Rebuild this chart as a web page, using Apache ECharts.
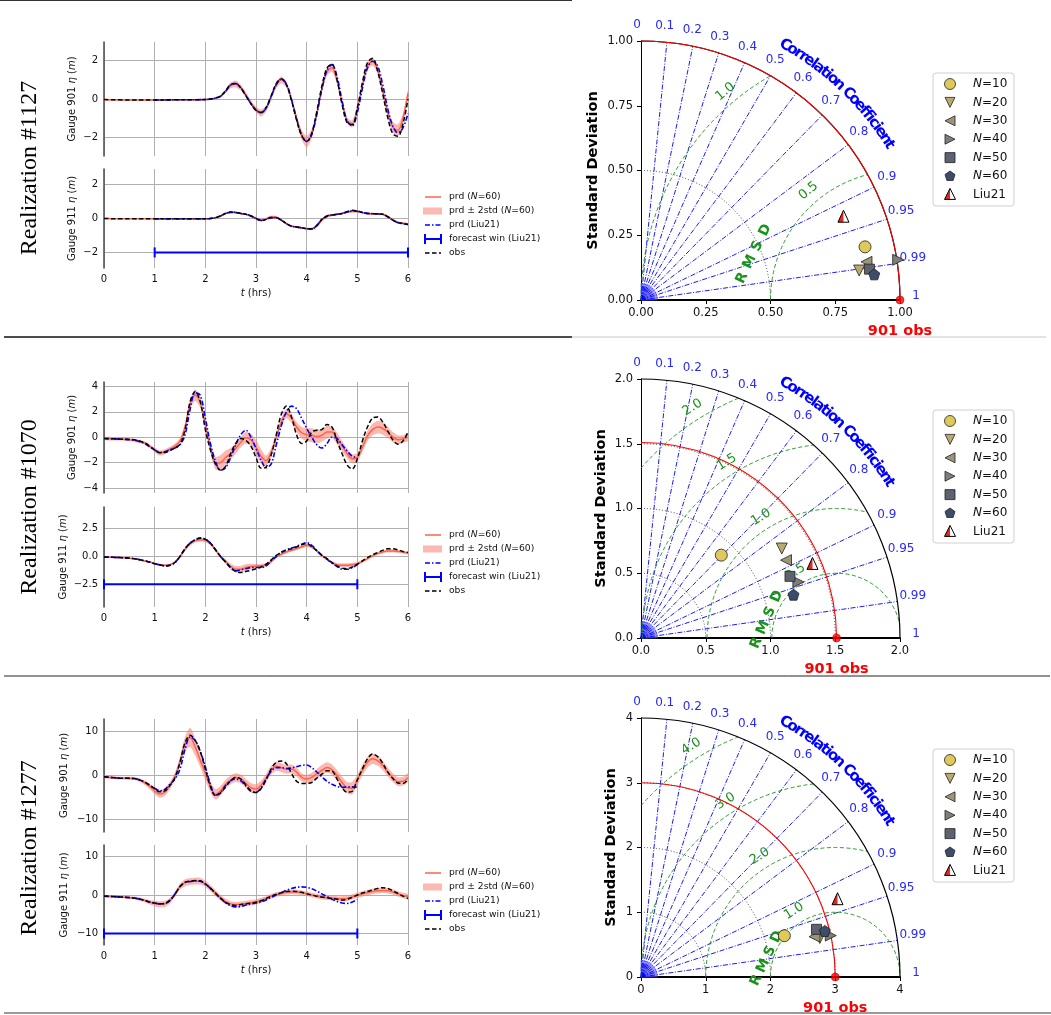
<!DOCTYPE html>
<html><head><meta charset="utf-8">
<script src="https://cdn.jsdelivr.net/npm/echarts@6/dist/echarts.min.js"></script>
<style>html,body{margin:0;padding:0;background:#fff}#c{width:1051px;height:1015px}</style>
</head><body><div id="c"></div>
<script>
// ---------------- DATA ----------------
const realizations = ['#1127', '#1070', '#1277'];
const gauges = ['901', '911'];
const xTicks = [0, 1, 2, 3, 4, 5, 6];

const hoursA = [0,0.5,1,1.5,2,
 2.1,2.2,2.3,2.4,2.5,2.6,2.7,2.8,2.9,3,
 3.1,3.2,3.3,3.4,3.5,3.6,3.7,3.8,3.9,4,
 4.1,4.2,4.3,4.4,4.5,4.6,4.7,4.8,4.9,5,
 5.1,5.2,5.3,5.4,5.5,5.6,5.7,5.8,5.9,6];
const hoursB = [0,0.3,0.6,0.8,0.9,
 1,1.1,1.2,1.3,1.4,1.5,1.6,1.7,1.8,1.9,
 2,2.1,2.2,2.3,2.4,2.5,2.6,2.7,2.8,2.9,
 3,3.1,3.2,3.3,3.4,3.5,3.6,3.7,3.8,3.9,
 4,4.1,4.2,4.3,4.4,4.5,4.6,4.7,4.8,4.9,
 5,5.1,5.2,5.3,5.4,5.5,5.6,5.7,5.8,5.9,6];

// Realization #1127
const obs_1127_901 = [-0.03,-0.05,-0.05,-0.04,-0.03,
 0.0,0.05,0.15,0.42,0.75,0.8,0.56,0.16,-0.25,-0.58,
 -0.7,-0.44,0.17,0.79,1.05,0.74,-0.07,-1.08,-1.89,-2.2,
 -1.77,-0.66,0.66,1.6,1.8,0.98,-0.3,-1.24,-1.33,-0.45,
 0.85,1.88,2.1,1.45,0.28,-0.96,-1.8,-1.93,-1.3,0.0];
const prd_1127_901 = [-0.03,-0.05,-0.05,-0.04,-0.03,
 0.0,0.05,0.15,0.4,0.7,0.78,0.6,0.22,-0.2,-0.55,
 -0.72,-0.5,0.1,0.72,1.0,0.74,-0.02,-1.0,-1.85,-2.2,
 -1.8,-0.75,0.5,1.4,1.62,0.95,-0.2,-1.12,-1.28,-0.5,
 0.7,1.7,1.95,1.5,0.45,-0.7,-1.45,-1.62,-1.0,0.3];
const sd_1127_901 = [0.03,0.03,0.03,0.03,0.03,
 0.03,0.04,0.06,0.1,0.15,0.18,0.15,0.12,0.12,0.15,
 0.18,0.15,0.12,0.15,0.18,0.15,0.12,0.18,0.25,0.3,
 0.25,0.15,0.15,0.2,0.22,0.18,0.15,0.15,0.18,0.15,
 0.15,0.2,0.22,0.2,0.18,0.2,0.28,0.3,0.25,0.2];
const liu_1127_901 = [null,null,-0.05,-0.04,-0.03,
 0.0,0.04,0.14,0.4,0.73,0.8,0.58,0.18,-0.24,-0.58,
 -0.7,-0.46,0.14,0.76,1.03,0.78,-0.02,-1.02,-1.86,-2.2,
 -1.85,-0.8,0.5,1.48,1.78,1.15,-0.1,-1.15,-1.38,-0.7,
 0.55,1.6,1.95,1.72,0.75,-0.5,-1.4,-1.75,-1.5,-0.75];
const obs_1127_911 = [0,-0.02,-0.02,-0.02,-0.02,
 0.0,0.05,0.15,0.3,0.38,0.36,0.3,0.25,0.15,0.0,
 -0.12,-0.05,0.05,0.05,-0.1,-0.3,-0.45,-0.5,-0.55,-0.6,
 -0.62,-0.4,-0.05,0.15,0.2,0.25,0.3,0.4,0.48,0.45,
 0.35,0.3,0.28,0.27,0.25,0.1,-0.1,-0.25,-0.3,-0.35];
const prd_1127_911 = [0,-0.02,-0.02,-0.02,-0.02,
 0.0,0.05,0.15,0.3,0.36,0.35,0.3,0.25,0.15,0.02,
 -0.1,-0.02,0.1,0.08,-0.1,-0.3,-0.45,-0.5,-0.55,-0.6,
 -0.6,-0.45,-0.1,0.15,0.2,0.25,0.3,0.38,0.42,0.42,
 0.35,0.3,0.28,0.27,0.25,0.12,-0.08,-0.22,-0.28,-0.33];
const sd_1127_911 = [0.02,0.02,0.02,0.02,0.02,
 0.02,0.03,0.05,0.06,0.06,0.06,0.06,0.06,0.06,0.06,
 0.06,0.06,0.07,0.07,0.06,0.06,0.06,0.06,0.06,0.07,
 0.07,0.06,0.06,0.06,0.06,0.06,0.06,0.07,0.07,0.07,
 0.06,0.06,0.06,0.06,0.06,0.06,0.06,0.06,0.06,0.06];
const liu_1127_911 = [null,null,-0.02,-0.02,-0.02,
 0.0,0.05,0.15,0.3,0.37,0.36,0.3,0.25,0.15,0.0,
 -0.12,-0.05,0.05,0.05,-0.1,-0.3,-0.45,-0.5,-0.55,-0.6,
 -0.62,-0.42,-0.05,0.12,0.2,0.25,0.3,0.38,0.45,0.43,
 0.35,0.3,0.28,0.27,0.25,0.1,-0.1,-0.25,-0.3,-0.35];

// Realization #1070
const obs_1070_901 = [-0.1,-0.15,-0.2,-0.45,-0.7,
 -1.0,-1.22,-1.2,-1.05,-0.85,-0.55,0.6,2.8,3.6,2.8,
 0.6,-1.0,-2.1,-2.6,-2.3,-1.3,-0.5,-0.1,-0.25,-0.7,
 -1.6,-2.45,-2.35,-1.4,0.2,1.8,2.45,1.6,0.2,-0.5,
 -0.3,0.4,0.55,0.6,1.0,0.8,-0.3,-1.3,-2.2,-2.5,
 -1.7,-0.3,0.8,1.5,1.6,1.2,0.5,-0.2,-0.55,-0.3,
 0.4];
const prd_1070_901 = [-0.1,-0.15,-0.25,-0.45,-0.7,
 -1.0,-1.25,-1.15,-0.95,-0.7,-0.3,0.8,2.6,3.3,2.7,
 1.0,-0.8,-2.05,-2.0,-1.6,-1.3,-0.9,-0.4,-0.05,-0.2,
 -0.8,-1.5,-1.85,-1.2,0.0,1.2,1.85,1.5,0.8,0.35,
 0.2,0.15,0.05,0.15,0.4,0.4,-0.1,-0.7,-1.3,-1.7,
 -1.6,-0.8,0.1,0.6,0.8,0.7,0.4,0.0,-0.2,-0.15,
 0.0];
const sd_1070_901 = [0.12,0.12,0.12,0.12,0.15,
 0.18,0.2,0.2,0.2,0.2,0.22,0.3,0.4,0.45,0.4,
 0.3,0.4,0.5,0.6,0.55,0.45,0.4,0.4,0.45,0.5,
 0.6,0.55,0.4,0.35,0.3,0.3,0.35,0.35,0.4,0.45,
 0.5,0.55,0.55,0.5,0.5,0.45,0.45,0.4,0.4,0.35,
 0.35,0.35,0.4,0.45,0.5,0.5,0.45,0.4,0.35,0.3,
 0.3];
const liu_1070_901 = [-0.1,-0.15,-0.25,-0.5,-0.75,
 -1.0,-1.2,-1.15,-1.0,-0.85,-0.6,0.2,2.2,3.5,3.3,
 1.5,-0.5,-1.9,-2.6,-2.4,-1.6,-0.6,0.2,0.55,0.0,
 -0.9,-1.8,-2.4,-2.1,-0.6,0.9,2.0,2.45,2.25,1.5,
 0.7,0.0,-0.6,-0.85,-0.5,0.0,-0.1,-0.6,-1.1,-1.5,
 -1.6,null,null,null,null,null,null,null,null,null,
 null];
const obs_1070_911 = [-0.05,-0.1,-0.2,-0.4,-0.5,
 -0.65,-0.75,-0.85,-0.8,-0.55,0.0,0.7,1.2,1.5,1.65,
 1.55,1.2,0.6,0.0,-0.5,-1.0,-1.35,-1.45,-1.35,-1.25,
 -1.1,-0.95,-0.7,-0.3,0.1,0.35,0.55,0.7,0.85,1.05,
 1.15,0.9,0.5,0.1,-0.2,-0.55,-0.85,-1.05,-1.1,-0.95,
 -0.7,-0.4,-0.1,0.15,0.35,0.55,0.7,0.7,0.6,0.45,
 0.35];
const prd_1070_911 = [-0.05,-0.1,-0.2,-0.4,-0.5,
 -0.65,-0.75,-0.8,-0.75,-0.5,0.0,0.65,1.15,1.4,1.5,
 1.45,1.15,0.6,0.0,-0.45,-0.9,-1.15,-1.15,-1.0,-0.9,
 -0.85,-0.85,-0.75,-0.45,-0.05,0.2,0.4,0.55,0.7,0.85,
 1.0,0.85,0.5,0.1,-0.25,-0.55,-0.75,-0.8,-0.8,-0.75,
 -0.65,-0.45,-0.2,0.05,0.25,0.4,0.5,0.5,0.45,0.4,
 0.3];
const sd_1070_911 = [0.06,0.06,0.06,0.08,0.08,
 0.08,0.1,0.1,0.1,0.1,0.12,0.15,0.15,0.15,0.15,
 0.15,0.15,0.15,0.15,0.2,0.25,0.3,0.3,0.3,0.25,
 0.2,0.18,0.15,0.15,0.12,0.12,0.12,0.12,0.12,0.12,
 0.12,0.12,0.12,0.12,0.12,0.12,0.15,0.18,0.18,0.18,
 0.15,0.12,0.12,0.12,0.12,0.12,0.15,0.15,0.12,0.12,
 0.12];
const liu_1070_911 = [-0.05,-0.1,-0.2,-0.4,-0.5,
 -0.65,-0.75,-0.85,-0.8,-0.55,0.0,0.7,1.2,1.5,1.65,
 1.55,1.2,0.6,0.0,-0.5,-1.0,-1.3,-1.2,-1.1,-1.0,
 -1.0,-1.0,-0.85,-0.4,0.0,0.4,0.6,0.75,0.9,1.1,
 1.25,1.0,0.55,0.1,-0.25,-0.6,-0.9,-1.15,-1.15,-1.0,
 -0.75,null,null,null,null,null,null,null,null,null,
 null];

// Realization #1277
const obs_1277_901 = [-0.3,-0.6,-0.7,-1.5,-2.2,
 -3.0,-3.7,-3.5,-2.3,-0.5,3.0,7.5,9.2,8.0,5.5,
 1.5,-2.5,-4.6,-4.0,-2.6,-1.2,-0.4,-0.8,-2.2,-3.5,
 -3.9,-3.0,-1.0,1.5,3.0,3.3,2.7,0.5,-1.3,-1.8,
 -1.8,-1.6,-0.6,0.3,1.1,1.0,-0.8,-2.8,-3.8,-3.6,
 -1.0,1.5,3.8,4.9,4.3,2.8,0.8,-0.7,-1.7,-1.8,
 -0.9];
const prd_1277_901 = [-0.3,-0.6,-0.7,-1.6,-2.5,
 -3.5,-4.2,-3.8,-2.3,-0.2,3.2,7.3,8.7,6.5,3.5,
 0.5,-2.5,-4.3,-3.5,-2.0,-1.0,-0.5,-0.8,-1.8,-2.8,
 -3.1,-2.2,-0.6,1.2,2.1,1.8,1.4,1.5,0.8,-0.4,
 -0.8,-0.4,0.4,1.2,1.8,1.3,0.0,-1.6,-2.8,-2.9,
 -1.0,1.2,3.0,3.8,3.4,2.3,0.8,-0.5,-1.4,-1.3,
 -0.5];
const sd_1277_901 = [0.3,0.3,0.35,0.5,0.6,
 0.8,0.9,0.9,0.8,0.8,1.0,1.6,2.2,2.0,1.6,
 1.5,1.3,1.2,1.1,1.0,1.0,1.0,1.0,1.0,1.1,
 1.1,1.0,1.0,1.0,1.0,1.0,1.0,1.0,1.0,0.9,
 0.9,1.0,1.1,1.2,1.2,1.2,1.2,1.3,1.3,1.4,
 1.2,1.2,1.2,1.2,1.2,1.1,1.0,1.0,1.0,1.0,
 1.0];
const liu_1277_901 = [-0.3,-0.6,-0.7,-1.5,-2.2,
 -2.9,-3.5,-3.2,-2.0,-0.8,1.5,6.0,8.8,8.0,5.5,
 2.0,-2.0,-4.5,-3.9,-2.3,-1.2,-0.8,-1.2,-2.4,-3.6,
 -3.8,-2.8,-0.8,1.0,1.8,1.8,1.6,1.7,2.0,2.3,
 2.4,1.8,0.8,-0.3,-1.3,-2.0,-2.5,-2.7,-2.6,-2.6,
 -2.7,null,null,null,null,null,null,null,null,null,
 null];
const obs_1277_911 = [-0.3,-0.5,-0.8,-1.4,-1.8,
 -2.1,-2.3,-2.2,-1.4,0.2,2.2,3.3,3.6,3.75,3.7,
 2.9,1.8,0.5,-0.8,-1.9,-2.5,-2.7,-2.5,-2.3,-2.1,
 -1.9,-1.5,-0.9,-0.3,0.2,0.6,0.9,0.95,0.9,0.7,
 0.35,0.0,-0.3,-0.55,-0.7,-0.9,-1.1,-1.3,-1.1,-0.6,
 0.0,0.5,0.9,1.3,1.7,1.9,1.7,1.1,0.4,-0.3,
 -0.9];
const prd_1277_911 = [-0.3,-0.5,-0.8,-1.4,-1.9,
 -2.2,-2.4,-2.3,-1.5,0.2,2.2,3.2,3.5,3.6,3.6,
 2.9,1.8,0.5,-0.7,-1.7,-2.3,-2.5,-2.4,-2.2,-2.0,
 -1.8,-1.4,-0.9,-0.3,0.1,0.4,0.7,0.8,0.75,0.6,
 0.35,0.0,-0.3,-0.55,-0.7,-0.8,-0.9,-1.0,-0.9,-0.5,
 -0.1,0.3,0.6,0.9,1.1,1.2,1.1,0.8,0.3,-0.1,
 -0.4];
const sd_1277_911 = [0.3,0.3,0.4,0.5,0.6,
 0.7,0.8,0.8,0.7,0.7,0.8,0.9,0.9,0.9,0.9,
 0.8,0.8,0.8,0.7,0.7,0.7,0.7,0.7,0.7,0.7,
 0.7,0.7,0.6,0.6,0.6,0.6,0.6,0.6,0.6,0.6,
 0.6,0.6,0.6,0.6,0.6,0.6,0.6,0.7,0.7,0.7,
 0.7,0.7,0.7,0.7,0.7,0.7,0.7,0.7,0.7,0.7,
 0.7];
const liu_1277_911 = [-0.3,-0.5,-0.8,-1.4,-1.8,
 -2.1,-2.3,-2.2,-1.4,0.2,2.2,3.3,3.5,3.7,3.6,
 2.8,1.7,0.4,-0.9,-2.0,-2.8,-3.1,-3.0,-2.6,-2.3,
 -2.1,-1.8,-1.3,-0.6,0.0,0.6,1.2,1.7,2.0,2.1,
 2.0,1.6,1.0,0.3,-0.4,-1.1,-1.7,-2.1,-2.2,-1.8,
 -1.2,null,null,null,null,null,null,null,null,null,
 null];

// y tick labels of the time-series panels
const yTicks_1127_901 = [-2, 0, 2];
const yTicks_1127_911 = [-2, 0, 2];
const yTicks_1070_901 = [-4, -2, 0, 2, 4];
const yTicks_1070_911 = [-2.5, 0, 2.5];
const yTicks_1277_901 = [-10, 0, 10];
const yTicks_1277_911 = [-10, 0, 10];

// forecast window of Liu21 (hours) and the level it is drawn at
const forecastWin = [[1, 6], [0, 5], [0, 5]];
const forecastLevel = [-2, -2.5, -10];

// Taylor diagrams (gauge 901)
const taylorNames = ['N=10', 'N=20', 'N=30', 'N=40', 'N=50', 'N=60', 'Liu21'];
const std_1127 = [0.889, 0.850, 0.883, 1.005, 0.890, 0.906, 0.846];
const corr_1127 = [0.973, 0.991, 0.986, 0.988, 0.991, 0.994, 0.924];
const std_1070 = [0.891, 1.288, 1.271, 1.290, 1.245, 1.224, 1.444];
const corr_1070 = [0.696, 0.844, 0.881, 0.942, 0.924, 0.962, 0.917];
const std_1277 = [2.304, 2.826, 2.751, 3.000, 2.809, 2.927, 3.267];
const corr_1277 = [0.961, 0.977, 0.974, 0.977, 0.965, 0.970, 0.929];
const obsStd = [1.0, 1.51, 3.0];
const taylorMax = [1, 2, 4];
const stdTickStep = [0.25, 0.5, 1];
const stdTickDec = [2, 1, 0];
const rmsdLevels = [[0.5, 1.0], [0.5, 1.0, 1.5, 2.0], [1, 2, 3, 4]];
const stdGuideArcs = [[0.5], [0.5, 1.0, 1.5], [1, 2, 3]];
const corrTicks = [0, 0.1, 0.2, 0.3, 0.4, 0.5, 0.6, 0.7, 0.8, 0.9, 0.95, 0.99, 1];

// ---------------- BUILD ----------------
const FONT = 'DejaVu Sans';
const C_PRD = '#ff6347', C_BAND = 'rgba(250,128,114,0.55)', C_LIU = '#0000ff', C_OBS = '#000000';
const markerColors = ['#dfc95a', '#b9ab6f', '#9c9679', '#7f7e79', '#5d626f', '#3d4b6c'];
const markerPaths = ['circle', 'path://M0,0L10,0L5,10Z', 'path://M10,0L10,10L0,5Z',
  'path://M0,0L10,5L0,10Z', 'rect', 'path://M5,0L10,3.63L8.09,9.51L1.91,9.51L0,3.63Z'];
const markerSizes = [12, 11, 11, 11, 10, 11];

const panels = [
  [hoursA, obs_1127_901, prd_1127_901, sd_1127_901, liu_1127_901, yTicks_1127_901, 0],
  [hoursA, obs_1127_911, prd_1127_911, sd_1127_911, liu_1127_911, yTicks_1127_911, 0],
  [hoursB, obs_1070_901, prd_1070_901, sd_1070_901, liu_1070_901, yTicks_1070_901, 0],
  [hoursB, obs_1070_911, prd_1070_911, sd_1070_911, liu_1070_911, yTicks_1070_911, 1],
  [hoursB, obs_1277_901, prd_1277_901, sd_1277_901, liu_1277_901, yTicks_1277_901, 0],
  [hoursB, obs_1277_911, prd_1277_911, sd_1277_911, liu_1277_911, yTicks_1277_911, 0]
];
const tsLayout = [
  {top: 42, height: 114, min: -2.95, max: 2.95, gap: 27},
  {top: 169, height: 99, min: -2.92, max: 2.92, gap: 27},
  {top: 382, height: 111, min: -4.4, max: 4.35, gap: 27},
  {top: 507, height: 100, min: -4.55, max: 4.45, gap: 36},
  {top: 719, height: 113, min: -12.9, max: 12.9, gap: 35},
  {top: 845, height: 100, min: -13, max: 13, gap: 35}
];
const taylorStd = [std_1127, std_1070, std_1277];
const taylorCorr = [corr_1127, corr_1070, corr_1277];
const taylorTop = [41, 379, 718];
const taylorNameGap = [40, 32, 22];

function fmt(v, dec) { return (v < 0 ? '\u2212' : '') + Math.abs(v).toFixed(dec); }

const option = {animation: false, backgroundColor: '#fff', grid: [], xAxis: [], yAxis: [], series: [], graphic: {elements: []}};
const SM = 0.35;

panels.forEach((p, i) => {
  const [T, obs, prd, sd, liu, ticks, dec] = p;
  const L = tsLayout[i];
  const row = Math.floor(i / 2), bottom = i % 2 === 1;
  option.grid.push({left: 104, width: 304, top: L.top, height: L.height});
  option.xAxis.push({
    gridIndex: i, type: 'value', min: 0, max: 6, interval: 1,
    axisLine: {show: false}, axisTick: {show: false},
    axisLabel: {show: bottom, fontSize: 10, color: '#111', fontFamily: FONT, margin: 6},
    splitLine: {show: true, lineStyle: {color: '#b0b0b0', width: 1}},
    name: bottom ? '{i|t} (hrs)' : '', nameLocation: 'middle', nameGap: 20, nameMoveOverlap: false,
    nameTextStyle: {fontSize: 10, color: '#111', fontFamily: FONT, rich: {i: {fontStyle: 'italic', fontSize: 10, fontFamily: FONT, color: '#111'}}}
  });
  option.yAxis.push({
    gridIndex: i, type: 'value', min: L.min, max: L.max,
    axisLine: {show: true, onZero: false, lineStyle: {color: '#555', width: 1.6}},
    axisTick: {show: false, customValues: ticks},
    axisLabel: {customValues: ticks, fontSize: 10, color: '#111', fontFamily: FONT, margin: 6, formatter: v => fmt(v, dec)},
    splitLine: {show: true, lineStyle: {color: '#b0b0b0', width: 1}},
    name: 'Gauge ' + gauges[i % 2] + ' {i|\u03b7} ({i|m})', nameLocation: 'middle', nameGap: L.gap, nameRotate: 90, nameMoveOverlap: false,
    nameTextStyle: {fontSize: 10, color: '#111', fontFamily: FONT, rich: {i: {fontStyle: 'italic', fontSize: 10, fontFamily: FONT, color: '#111'}}}
  });
  const common = {xAxisIndex: i, yAxisIndex: i, type: 'line', symbol: 'none', smooth: SM, silent: true};
  option.series.push({
    type: 'custom', xAxisIndex: i, yAxisIndex: i, silent: true, z: 1, clip: true,
    data: T.map((t, k) => [t, prd[k] - sd[k], prd[k] + sd[k]]),
    encode: {x: 0, y: [1, 2]},
    renderItem: function (params, api) {
      if (params.dataIndex !== 0) return;
      const up = T.map((t, k) => api.coord([t, prd[k] + sd[k]]));
      const lo = T.map((t, k) => api.coord([t, prd[k] - sd[k]])).reverse();
      return {type: 'polygon', shape: {points: up.concat(lo), smooth: 0.25}, style: {fill: C_BAND}};
    }
  });
  option.series.push(Object.assign({}, common, {
    data: T.map((t, k) => [t, prd[k]]), lineStyle: {color: C_PRD, width: 1.5}, z: 3
  }));
  option.series.push(Object.assign({}, common, {
    data: T.map((t, k) => liu[k] == null ? null : [t, liu[k]]).filter(d => d),
    lineStyle: {color: C_LIU, width: 1.6, type: [5, 2, 1.5, 2]}, z: 4
  }));
  option.series.push(Object.assign({}, common, {
    data: T.map((t, k) => [t, obs[k]]), lineStyle: {color: C_OBS, width: 1.5, type: [4.5, 2.5]}, z: 5
  }));
  if (bottom) {
    const w = forecastWin[row], lv = forecastLevel[row];
    option.series.push({
      type: 'line', xAxisIndex: i, yAxisIndex: i, silent: true, smooth: false,
      data: [[w[0], lv], [w[1], lv]], symbol: 'rect', symbolSize: [2, 10],
      itemStyle: {color: C_LIU}, lineStyle: {color: C_LIU, width: 2}, z: 6
    });
  }
});

// ---- Taylor diagrams ----
function taylorDeco(r, gi) {
  const M = taylorMax[r], obs = obsStd[r];
  return {
    type: 'custom', xAxisIndex: gi, yAxisIndex: gi, clip: false, silent: true, z: 2,
    data: [[0, 0]],
    renderItem: function (params, api) {
      const o = api.coord([0, 0]);
      const s = api.size([1, 1])[0];
      const R = M * s;
      const ch = [];
      const P = (cx, rad, ang) => [cx + rad * Math.cos(ang), o[1] - rad * Math.sin(ang)];
      for (let k = 0; k <= 36; k++) {
        const a = k / 36 * Math.PI / 2, q = P(o[0], 0.065 * R, a);
        ch.push({type: 'line', shape: {x1: o[0], y1: o[1], x2: q[0], y2: q[1]}, style: {stroke: '#4a4aff', lineWidth: 0.5}});
      }
      corrTicks.forEach(c => {
        if (c === 0 || c === 1) return;
        const a = Math.acos(c), q = P(o[0], R, a);
        ch.push({type: 'line', shape: {x1: o[0], y1: o[1], x2: q[0], y2: q[1]},
          style: {stroke: '#0000ff', lineWidth: 0.9, lineDash: [5, 1.6, 1, 1.6]}});
      });
      stdGuideArcs[r].forEach(v => {
        ch.push({type: 'arc', shape: {cx: o[0], cy: o[1], r: v * s, startAngle: -Math.PI / 2, endAngle: 0, clockwise: true},
          style: {stroke: '#333', lineWidth: 0.9, lineDash: [1, 2], fill: 'none'}});
      });
      const oc = api.coord([obs, 0]);
      rmsdLevels[r].forEach(lv => {
        let k = (M * M - obs * obs - lv * lv) / (2 * obs * lv);
        k = Math.max(-1, Math.min(1, k));
        const tmin = Math.acos(k);
        const tmax = Math.acos(Math.max(-1, -obs / lv));
        if (tmax > tmin) {
          ch.push({type: 'arc', shape: {cx: oc[0], cy: oc[1], r: lv * s, startAngle: -tmax, endAngle: -tmin, clockwise: true},
            style: {stroke: '#1a931a', lineWidth: 0.9, lineDash: [4, 2.5], fill: 'none'}});
        }
        const phi = (r === 0 ? 130 : 122) * Math.PI / 180;
        const q = P(oc[0], lv * s + 0.05 * R, phi);
        ch.push({type: 'text', x: q[0], y: q[1], rotation: phi - Math.PI / 2,
          style: {text: lv.toFixed(1), fill: '#1a931a', fontSize: 13, fontFamily: FONT, align: 'center', verticalAlign: 'middle'}});
      });
      ch.push({type: 'arc', shape: {cx: o[0], cy: o[1], r: R, startAngle: -Math.PI / 2, endAngle: 0, clockwise: true},
        style: {stroke: '#000', lineWidth: 1.2, fill: 'none'}});
      ch.push({type: 'arc', shape: {cx: o[0], cy: o[1], r: obs * s, startAngle: -Math.PI / 2, endAngle: 0, clockwise: true},
        style: {stroke: '#ff0000', lineWidth: 1.1, fill: 'none'}});
      corrTicks.forEach(c => {
        const a = Math.acos(c) + 0.8 * Math.PI / 180, q = P(o[0], 1.062 * R, a);
        ch.push({type: 'text', x: q[0], y: q[1],
          style: {text: String(c), fill: '#2828ff', fontSize: 12, fontFamily: FONT, align: 'center', verticalAlign: 'middle'}});
      });
      const title = 'Correlation Coefficient';
      const cv = document.createElement('canvas').getContext('2d');
      cv.font = 'bold 15px "DejaVu Sans"';
      const ws = title.split('').map(chr => cv.measureText(chr).width);
      const cen = []; let acc = 0;
      ws.forEach(w => { cen.push(acc + w / 2); acc += w; });
      const a0 = 60.5 * Math.PI / 180, a1 = 32 * Math.PI / 180;
      title.split('').forEach((chr, k) => {
        if (chr === ' ') return;
        const f = (cen[k] - cen[0]) / (cen[cen.length - 1] - cen[0]);
        const a = a0 + (a1 - a0) * f, q = P(o[0], 1.13 * R, a);
        ch.push({type: 'text', x: q[0], y: q[1], rotation: a - Math.PI / 2,
          style: {text: chr, fill: '#0000ff', fontSize: 15, fontWeight: 'bold', fontFamily: FONT, align: 'center', verticalAlign: 'middle'}});
      });
      const rm = [[0.39, 0.085, 0.48, 0.27], [0.89, -0.04, 1.05, 0.32], [1.78, -0.05, 2.1, 0.62]][r];
      const pa = api.coord([rm[0], rm[1]]), pb = api.coord([rm[2], rm[3]]);
      const rot = Math.atan2(pa[1] - pb[1], pb[0] - pa[0]);
      'RMSD'.split('').forEach((chr, k) => {
        const f = k / 3;
        ch.push({type: 'text', x: pa[0] + (pb[0] - pa[0]) * f, y: pa[1] + (pb[1] - pa[1]) * f, rotation: rot,
          style: {text: chr, fill: '#1a931a', fontSize: 14, fontWeight: 'bold', fontFamily: FONT, align: 'center', verticalAlign: 'middle'}});
      });
      ch.push({type: 'text', x: oc[0], y: oc[1] + 31,
        style: {text: '901 obs', fill: '#ff0000', fontSize: 14.5, fontWeight: 'bold', fontFamily: FONT, align: 'center', verticalAlign: 'middle'}});
      return {type: 'group', children: ch};
    }
  };
}

for (let r = 0; r < 3; r++) {
  const gi = 6 + r, M = taylorMax[r];
  option.grid.push({left: 641, width: 259, top: taylorTop[r], height: 259});
  const ax = {
    gridIndex: gi, type: 'value', min: 0, max: M, interval: stdTickStep[r],
    axisTick: {show: true, length: 4, lineStyle: {color: '#000', width: 1}},
    axisLabel: {fontSize: 11.5, color: '#111', fontFamily: FONT, margin: 7, formatter: v => v.toFixed(stdTickDec[r])},
    splitLine: {show: false}
  };
  option.xAxis.push(Object.assign({}, ax, {axisLine: {show: true, onZero: false, lineStyle: {color: '#000', width: 2}}}));
  option.yAxis.push(Object.assign({}, ax, {
    axisLine: {show: true, onZero: false, lineStyle: {color: '#000', width: 1}},
    axisLabel: Object.assign({}, ax.axisLabel, {margin: 8}),
    name: 'Standard Deviation', nameLocation: 'middle', nameGap: taylorNameGap[r], nameRotate: 90, nameMoveOverlap: false,
    nameTextStyle: {fontSize: 14.5, fontWeight: 'bold', color: '#000', fontFamily: FONT}
  }));
  option.series.push(taylorDeco(r, gi));
  const sdv = taylorStd[r], cr = taylorCorr[r];
  for (let m = 0; m < 6; m++) {
    option.series.push({
      type: 'scatter', name: taylorNames[m], xAxisIndex: gi, yAxisIndex: gi, silent: true, z: 5 + m * 0.1,
      data: [[sdv[m] * cr[m], sdv[m] * Math.sqrt(1 - cr[m] * cr[m])]],
      symbol: markerPaths[m], symbolSize: markerSizes[m],
      itemStyle: {color: markerColors[m], borderColor: '#222', borderWidth: 0.8, opacity: 1}
    });
  }
  option.series.push({
    type: 'custom', name: 'Liu21', xAxisIndex: gi, yAxisIndex: gi, silent: true, z: 6, clip: false,
    data: [[sdv[6] * cr[6], sdv[6] * Math.sqrt(1 - cr[6] * cr[6])]],
    renderItem: function (params, api) {
      const c = api.coord([api.value(0), api.value(1)]);
      const h = 12, w = 11;
      const tp = [c[0], c[1] - h / 2], bl = [c[0] - w / 2, c[1] + h / 2], br = [c[0] + w / 2, c[1] + h / 2], bm = [c[0], c[1] + h / 2];
      return {type: 'group', children: [
        {type: 'polygon', shape: {points: [tp, br, bl]}, style: {fill: '#fff'}},
        {type: 'polygon', shape: {points: [tp, bm, bl]}, style: {fill: '#e8251f'}},
        {type: 'polygon', shape: {points: [tp, br, bl]}, style: {fill: 'none', stroke: '#000', lineWidth: 1}}
      ]};
    }
  });
  option.series.push({
    type: 'scatter', xAxisIndex: gi, yAxisIndex: gi, silent: true, z: 7, clip: false,
    data: [[obsStd[r], 0]], symbol: 'circle', symbolSize: 8,
    itemStyle: {color: '#ff0000', borderColor: '#900', borderWidth: 0.6}
  });
}

// ---- graphics: legends, labels, separators ----
const G = option.graphic.elements;
const rowBaseY = [0, 338, 676];
const realizationCY = [168, 507, 848];
realizations.forEach((nm, r) => {
  G.push({type: 'text', x: 30, y: realizationCY[r], rotation: Math.PI / 2,
    style: {text: 'Realization ' + nm, fill: '#000', fontSize: 24, fontFamily: 'Liberation Serif', align: 'center', verticalAlign: 'middle'}});
  const b = 197 + rowBaseY[r];
  const tx = 449, fs = 9.2;
  const txt = (t, y) => G.push({type: 'text', x: tx, y: y,
    style: {text: t, fill: '#111', fontSize: fs, fontFamily: FONT, verticalAlign: 'middle', rich: {i: {fontStyle: 'italic', fontSize: fs, fontFamily: FONT, fill: '#111'}}}});
  G.push({type: 'line', shape: {x1: 425, y1: b, x2: 441, y2: b}, style: {stroke: C_PRD, lineWidth: 1.5}});
  txt('prd ({i|N}=60)', b);
  G.push({type: 'rect', shape: {x: 423, y: b + 10.5, width: 19, height: 7}, style: {fill: C_BAND}});
  txt('prd \u00b1 2std ({i|N}=60)', b + 14);
  G.push({type: 'line', shape: {x1: 425, y1: b + 28, x2: 441, y2: b + 28}, style: {stroke: C_LIU, lineWidth: 1.6, lineDash: [5, 2, 1.5, 2]}});
  txt('prd (Liu21)', b + 28);
  G.push({type: 'line', shape: {x1: 425, y1: b + 42, x2: 441, y2: b + 42}, style: {stroke: C_LIU, lineWidth: 2}});
  G.push({type: 'line', shape: {x1: 425, y1: b + 37, x2: 425, y2: b + 47}, style: {stroke: C_LIU, lineWidth: 2}});
  G.push({type: 'line', shape: {x1: 441, y1: b + 37, x2: 441, y2: b + 47}, style: {stroke: C_LIU, lineWidth: 2}});
  txt('forecast win (Liu21)', b + 42);
  G.push({type: 'line', shape: {x1: 425, y1: b + 56, x2: 441, y2: b + 56}, style: {stroke: C_OBS, lineWidth: 1.5, lineDash: [4.5, 2.5]}});
  txt('obs', b + 56);

  const tb = 84 + rowBaseY[r] - (r === 1 ? 1 : 0);
  G.push({type: 'rect', shape: {x: 933, y: tb - 11, width: 81, height: 133, r: 3}, style: {fill: '#fff', stroke: '#d0d0d0', lineWidth: 1}});
  const mx = 950;
  for (let m = 0; m < 7; m++) {
    const y = tb + m * 18.4;
    const st = m < 6 ? {fill: markerColors[m], stroke: '#222', lineWidth: 0.8} : null;
    if (m === 0) G.push({type: 'circle', shape: {cx: mx, cy: y, r: 5.5}, style: st});
    if (m === 1) G.push({type: 'polygon', shape: {points: [[mx - 5, y - 5], [mx + 5, y - 5], [mx, y + 5]]}, style: st});
    if (m === 2) G.push({type: 'polygon', shape: {points: [[mx + 5, y - 5], [mx + 5, y + 5], [mx - 5, y]]}, style: st});
    if (m === 3) G.push({type: 'polygon', shape: {points: [[mx - 5, y - 5], [mx + 5, y], [mx - 5, y + 5]]}, style: st});
    if (m === 4) G.push({type: 'rect', shape: {x: mx - 5, y: y - 5, width: 10, height: 10}, style: st});
    if (m === 5) G.push({type: 'polygon', shape: {points: [[mx, y - 5], [mx + 5, y - 1.4], [mx + 3.1, y + 4.5], [mx - 3.1, y + 4.5], [mx - 5, y - 1.4]]}, style: st});
    if (m === 6) {
      const tp = [mx, y - 6], bl = [mx - 5.5, y + 5], br = [mx + 5.5, y + 5], bm = [mx, y + 5];
      G.push({type: 'polygon', shape: {points: [tp, br, bl]}, style: {fill: '#fff'}});
      G.push({type: 'polygon', shape: {points: [tp, bm, bl]}, style: {fill: '#e8251f'}});
      G.push({type: 'polygon', shape: {points: [tp, br, bl]}, style: {fill: 'none', stroke: '#000', lineWidth: 1}});
    }
    const label = taylorNames[m].replace('N=', '{i|N}=');
    G.push({type: 'text', x: 973, y: y, style: {text: label, fill: '#111', fontSize: 12, fontFamily: FONT, verticalAlign: 'middle',
      rich: {i: {fontStyle: 'italic', fontSize: 12, fontFamily: FONT, fill: '#111'}}}});
  }
});
G.push({type: 'line', shape: {x1: 0, y1: 0.5, x2: 572, y2: 0.5}, style: {stroke: '#333', lineWidth: 1}});
G.push({type: 'line', shape: {x1: 4, y1: 337, x2: 572, y2: 337}, style: {stroke: '#111', lineWidth: 1.5}});
G.push({type: 'line', shape: {x1: 572, y1: 337, x2: 1046, y2: 337}, style: {stroke: '#c8c8c8', lineWidth: 1}});
G.push({type: 'line', shape: {x1: 4, y1: 676, x2: 1050, y2: 676}, style: {stroke: '#222', lineWidth: 1}});
G.push({type: 'line', shape: {x1: 4, y1: 1013, x2: 1051, y2: 1013}, style: {stroke: '#777', lineWidth: 1.5}});

const chart = echarts.init(document.getElementById('c'), null, {renderer: 'canvas', width: 1051, height: 1015});
chart.setOption(option);
</script></body></html>
